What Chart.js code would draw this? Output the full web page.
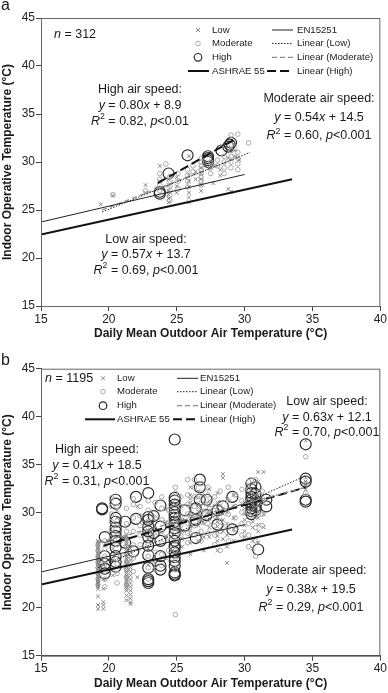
<!DOCTYPE html>
<html>
<head>
<meta charset="utf-8">
<script src="https://cdn.jsdelivr.net/npm/chart.js@4.4.0/dist/chart.umd.min.js"></script>
<style>
  html, body { margin: 0; padding: 0; background: #fff; }
  canvas { display: block; }
</style>
</head>
<body>
<canvas id="chartA" width="388" height="346"></canvas>
<canvas id="chartB" width="388" height="347"></canvas>
<script>
// axis ranges
const xRange = [15, 40];
const yRange = [15, 45];
const tickStep = 5;

// comfort standard lines (same in both panels)
const en15251Line = [[15, 23.75], [30, 28.7]];
const ashraeLine = [[15, 22.45], [33.5, 28.2]];

// ---- panel a (n = 312) ----  columns: [outdoor temp, [indoor temps]]
const lowA = [
  [19.4, [25.6]], [20.3, [26.5]], [22.7, [26.8, 27.6]],
  [23.75, [26.2, 27.2, 28.0, 29.6]], [24.4, [25.8, 26.2, 26.6, 27.0, 27.6, 28.2]],
  [25.0, [26.8, 27.5, 28.4]], [25.9, [25.8, 26.3, 26.8, 27.4, 28.0, 28.6, 30.6]],
  [26.4, [28.2, 29.0]], [26.8, [27.0, 27.6, 28.2, 28.8, 29.4]], [27.7, [27.8, 29.6]],
  [28.2, [28.6, 29.2]], [28.8, [27.2, 30.4]], [29.0, [26.9]], [29.3, [30.6, 31.2, 31.7]],
  [29.6, [30.2]]
];
const modA = [
  [20.3, [26.6]], [22.7, [27.0]], [23.75, [27.0, 27.6, 28.2, 28.8]], [24.2, [29.8]],
  [24.5, [26.0, 26.5, 27.0, 27.5, 28.0, 28.5]], [25.1, [27.2, 28.0, 28.8]],
  [25.8, [27.4, 28.0, 28.6, 29.2]], [26.2, [29.0, 29.6]],
  [26.8, [27.6, 28.0, 28.4, 28.8, 29.2, 29.6, 30.0, 30.4]], [27.5, [28.8, 29.4, 30.0]],
  [28.0, [29.6, 30.2]], [28.5, [28.8, 29.4, 30.0, 30.6]],
  [29.0, [29.4, 30.0, 30.6, 31.2, 31.8, 32.8]], [29.5, [29.2, 29.8, 30.4, 31.0, 32.9]],
  [30.3, [32.0]]
];
const highA = [
  [23.75, [26.7, 26.9]], [24.4, [28.8]], [25.8, [30.7]], [27.3, [30.0, 30.2, 30.4, 30.6]],
  [28.3, [31.2]], [28.8, [31.6]], [28.9, [31.8]], [29.0, [32.0]]
];
const lowFitA = [[19.5, 24.8], [30.4, 31.0]];
const modFitA = [[19.5, 25.0], [29.6, 30.5]];
const highFitA = [[23.6, 27.8], [29.2, 32.3]];

// ---- panel b (n = 1195) ----
const lowB = [
  [19.2, [19.9, 20.3, 21.2, 22.0, 22.2, 22.4, 22.6, 22.8, 23.0, 23.2, 23.4, 23.6, 23.8, 24.0, 24.2, 24.4, 24.6, 24.8, 25.0, 25.2, 25.4, 25.6, 25.8, 26.0, 26.2, 26.4, 26.6, 26.8, 27.0]],
  [19.6, [19.9, 20.3, 20.6, 22.0, 23.0, 24.5]],
  [20.3, [23.4, 24.1, 25.0, 26.2, 27.1, 28.0]],
  [20.6, [29.4, 30.2]],
  [21.3, [20.8, 21.3, 21.8, 22.0, 22.2, 22.4, 22.6, 22.8, 23.0, 23.2, 23.4, 23.6, 23.8, 24.0, 24.2, 24.4, 24.6, 24.8, 25.0, 25.2, 25.4, 25.6, 25.8, 26.0, 26.2, 26.4, 26.6, 26.8, 27.0, 27.2, 27.4, 27.6]],
  [21.6, [20.4, 20.6, 21.0, 21.4, 21.8, 22.2, 22.6, 23.0, 23.4, 23.8, 24.2, 24.6, 25.0, 25.4, 25.8, 26.2]],
  [22.1, [23.2, 30.6]],
  [22.9, [23.5, 24.5, 26.2, 27.2, 28.1, 29.0]],
  [23.3, [24.8, 27.5, 29.3]],
  [24.2, [25.2, 27.5, 29.0, 30.3]],
  [24.9, [23.0, 24.3, 25.6, 26.9, 28.2, 29.5, 30.8]],
  [25.4, [26.4, 27.2, 28.0, 29.2]],
  [26.0, [25.6, 26.8, 27.6, 28.1, 28.5, 28.9, 29.3, 29.7, 30.2, 30.6, 31.0, 31.4, 31.8, 32.6]],
  [26.6, [27.0, 27.8, 28.6, 29.0, 29.4, 29.8, 30.1, 30.5, 30.8, 31.5, 32.2]],
  [27.0, [26.0, 27.4, 28.8, 29.5, 30.2, 30.9, 31.6]],
  [27.4, [27.4, 28.4, 29.3, 29.8, 30.2, 30.7, 31.2, 32.4]],
  [28.0, [26.0, 27.0, 27.5, 28.0, 28.5, 29.0, 29.5, 30.0, 30.5, 31.0, 32.0]],
  [28.4, [27.2, 28.0, 28.6, 29.2, 29.8, 30.4, 33.6, 34.0]],
  [28.7, [24.7, 26.4, 27.6, 28.8, 30.0, 31.4]],
  [29.2, [27.0, 28.2, 29.4, 30.6, 31.8]],
  [30.0, [27.4, 28.0, 28.6, 29.2, 29.8, 30.4, 31.0]],
  [30.6, [26.2, 27.0, 28.4, 29.0, 29.6, 30.2, 30.8, 31.4, 32.0, 33.0]],
  [31.0, [26.8, 28.0, 28.7, 29.4, 30.0, 30.6, 31.2, 31.8, 33.2, 34.2]],
  [31.4, [28.4, 29.8, 31.2, 34.2]],
  [34.5, [32.4, 32.8, 33.2, 33.6, 37.5]]
];
const modB = [
  [19.2, [22.4, 23.0, 23.6, 24.2, 24.8, 25.4, 26.0, 26.6]],
  [19.7, [22.2, 23.0, 23.8, 24.6, 25.4, 26.2, 27.0]],
  [20.2, [27.4, 28.2, 29.0, 29.8, 30.6, 31.5]],
  [20.6, [22.6, 23.6, 24.6, 25.6, 26.6, 27.6, 28.6, 30.6]],
  [21.3, [22.4, 23.2, 24.0, 24.8, 25.6, 26.4, 27.2, 28.0, 28.8, 30.4]],
  [21.8, [23.8, 25.2, 26.6, 28.0, 29.4, 30.8, 31.4]],
  [22.3, [26.6, 27.6, 28.6, 29.6, 30.6]],
  [22.9, [23.0, 24.2, 25.4, 26.6, 27.8, 29.0, 30.2, 31.2]],
  [23.4, [24.0, 25.8, 27.6, 29.4, 31.0]],
  [23.9, [24.4, 25.6, 26.8, 28.0, 29.2, 30.4, 31.6]],
  [24.4, [26.0, 27.4, 28.8, 30.2]],
  [24.9, [19.3, 24.0, 25.0, 26.0, 27.0, 28.0, 29.0, 30.0, 31.0, 32.0, 32.6]],
  [25.3, [27.6, 28.6, 29.6, 30.6, 31.6]],
  [25.8, [26.8, 27.8, 28.8, 29.8, 30.8, 31.8, 33.4]],
  [26.3, [27.6, 28.6, 29.6, 30.6, 31.6, 32.6, 33.4]],
  [26.8, [27.0, 28.0, 29.0, 30.0, 31.0, 32.0, 33.0]],
  [27.3, [27.8, 28.8, 29.8, 30.8, 31.8, 32.6]],
  [27.8, [26.6, 27.6, 28.6, 29.6, 30.6, 31.6]],
  [28.2, [26.0, 28.0, 29.0, 30.0, 31.0, 32.2]],
  [28.8, [27.0, 28.4, 29.8, 31.2, 32.6]],
  [29.3, [28.2, 29.4, 30.6, 31.8]],
  [29.8, [27.6, 28.8, 30.0, 31.2, 32.4]],
  [30.3, [26.4, 27.6, 28.8, 30.0, 31.2, 32.4, 33.2]],
  [30.8, [25.4, 27.0, 28.4, 29.6, 30.8, 32.0, 33.4]],
  [31.3, [28.6, 29.8, 31.0, 32.2]],
  [34.5, [32.0, 33.0, 35.8]]
];
const highB = [
  [19.5, [30.3, 30.4]],
  [19.7, [23.6, 24.1, 24.6, 25.4, 27.4]],
  [20.5, [24.3, 24.8, 25.4, 26.3, 27.0, 27.5, 28.0, 28.4, 29.0, 29.4, 30.9, 31.3]],
  [21.2, [26.8, 29.0]],
  [21.8, [25.9]],
  [22.0, [29.3, 31.6]],
  [22.9, [22.6, 22.8, 23.0, 24.2, 25.5, 26.5, 27.4, 28.0, 28.5, 29.2, 29.5, 32.0]],
  [23.3, [27.8, 29.6]],
  [23.8, [24.0, 24.4, 25.4, 27.0, 28.5, 30.7]],
  [24.85, [23.4, 23.5, 23.7, 24.4, 24.9, 25.3, 25.8, 26.3, 26.5, 27.0, 27.8, 28.3, 28.7, 29.0, 29.4, 29.7, 30.0, 30.4, 30.8, 31.2, 31.5, 37.6]],
  [25.6, [28.6, 30.2]],
  [26.4, [27.3, 29.2, 30.4]],
  [26.7, [31.3, 32.6, 33.4]],
  [27.2, [29.7, 31.3]],
  [28.0, [28.7, 30.2]],
  [28.4, [30.6]],
  [29.1, [28.2, 31.6]],
  [30.5, [29.8, 30.1, 30.4, 30.7, 31.0, 31.3, 31.6, 32.0, 32.4, 33.0]],
  [30.8, [30.2, 30.6, 31.2, 31.9, 32.6]],
  [31.0, [26.1]],
  [31.6, [30.6, 31.3]],
  [34.5, [31.1, 31.3, 33.2, 33.5, 37.1]]
];
const lowFitB = [[19.2, 24.2], [34.5, 33.8]];
const modFitB = [[19.2, 26.8], [34.5, 32.6]];
const highFitB = [[19.6, 26.5], [34.5, 32.6]];

const seriesNames = ['Low', 'Moderate', 'High'];
const lineNames = ['EN15251', 'Linear (Low)', 'Linear (Moderate)', 'ASHRAE 55', 'Linear (High)'];

const FONT = '"Liberation Sans", Arial, sans-serif';
const INK = '#1a1a1a';
const LEG_FONT = '9.6px ' + FONT;

const cols = c => c.flatMap(([x, ys]) => ys.map(y => ({ x, y })));
const pts = p => p.map(([x, y]) => ({ x, y }));

const styles = {
  low: { pointStyle: 'crossRot', pointRadius: 2.6, borderColor: '#858585', borderWidth: 1 },
  mod: { pointStyle: 'circle', pointRadius: 2.3, borderColor: '#a9a9a9', backgroundColor: 'rgba(0,0,0,0)', borderWidth: 1 },
  high: { pointStyle: 'circle', pointRadius: 5.5, borderColor: '#2a2a2a', backgroundColor: 'rgba(0,0,0,0)', borderWidth: 1.2 },
  en: { borderColor: '#222', borderWidth: 1, borderDash: [] },
  ashrae: { borderColor: '#111', borderWidth: 2, borderDash: [] },
  lowFit: { borderColor: '#222', borderWidth: 1, borderDash: [1.5, 1.5] },
  modFit: { borderColor: '#8c8c8c', borderWidth: 1.3, borderDash: [5, 3] },
  highFit: { borderColor: '#111', borderWidth: 2, borderDash: [9, 4] }
};

function lineSet(data, st) {
  return Object.assign({ type: 'scatter', data: pts(data), showLine: true, pointRadius: 0, fill: false, order: 0 }, st);
}
function scatterSet(label, data, st) {
  return Object.assign({ type: 'scatter', label, data: cols(data), order: 1 }, st);
}

// rich text: "_" prefix = italic, "^" prefix = superscript
function rich(ctx, parts, x, y, size, align) {
  const segs = parts.map(p => {
    let t = p, it = false, sup = false;
    if (t[0] === '_') { it = true; t = t.slice(1); }
    else if (t[0] === '^') { sup = true; t = t.slice(1); }
    const font = (it ? 'italic ' : '') + (sup ? size * 0.7 : size) + 'px ' + FONT;
    ctx.font = font;
    return { t, font, sup, w: ctx.measureText(t).width };
  });
  const total = segs.reduce((s, g) => s + g.w, 0);
  let cx = align === 'center' ? x - total / 2 : x;
  ctx.textAlign = 'left';
  ctx.textBaseline = 'middle';
  segs.forEach(g => {
    ctx.font = g.font;
    ctx.fillText(g.t, cx, g.sup ? y - size * 0.38 : y);
    cx += g.w;
  });
}

function drawMarker(ctx, kind, x, y) {
  ctx.save();
  if (kind === 'low') {
    ctx.strokeStyle = styles.low.borderColor; ctx.lineWidth = 1;
    ctx.beginPath();
    ctx.moveTo(x - 2, y - 2); ctx.lineTo(x + 2, y + 2);
    ctx.moveTo(x + 2, y - 2); ctx.lineTo(x - 2, y + 2);
    ctx.stroke();
  } else {
    const r = kind === 'mod' ? 2.3 : 3.8;
    ctx.strokeStyle = styles[kind].borderColor; ctx.lineWidth = styles[kind].borderWidth;
    ctx.beginPath(); ctx.arc(x, y, r, 0, Math.PI * 2); ctx.stroke();
  }
  ctx.restore();
}
function drawSample(ctx, st, x1, x2, y) {
  ctx.save();
  ctx.strokeStyle = st.borderColor; ctx.lineWidth = st.borderWidth;
  ctx.setLineDash(st.borderDash);
  ctx.beginPath(); ctx.moveTo(x1, y); ctx.lineTo(x2, y); ctx.stroke();
  ctx.restore();
}

function decorations(cfg) {
  return {
    id: 'decor',
    afterDraw(chart) {
      const ctx = chart.ctx, a = chart.chartArea;
      ctx.save();
      // plot frame
      ctx.strokeStyle = '#666'; ctx.lineWidth = 1;
      ctx.strokeRect(a.left + 0.5, a.top + 0.5, a.right - a.left - 1, a.bottom - a.top);
      ctx.fillStyle = INK;
      // panel letter
      ctx.font = '16px ' + FONT; ctx.textAlign = 'left'; ctx.textBaseline = 'alphabetic';
      ctx.fillText(cfg.letter, 1, cfg.letterY);
      // axis titles
      ctx.font = 'bold 12px ' + FONT; ctx.textAlign = 'center'; ctx.textBaseline = 'middle';
      ctx.fillText('Daily Mean Outdoor Air Temperature (°C)', (a.left + a.right) / 2, a.bottom + 27.5);
      ctx.save();
      ctx.translate(10.5, (a.top + a.bottom) / 2);
      ctx.rotate(-Math.PI / 2);
      ctx.textBaseline = 'alphabetic';
      ctx.fillText('Indoor Operative Temperature (°C)', 0, 0);
      ctx.restore();
      // legend
      const L = cfg.legend, rows = L.rows;
      ['low', 'mod', 'high'].forEach((k, i) => {
        drawMarker(ctx, k, L.markX, rows[i]);
        ctx.fillStyle = INK; ctx.font = LEG_FONT; ctx.textAlign = 'left'; ctx.textBaseline = 'middle';
        ctx.fillText(seriesNames[i], L.textX1, rows[i]);
      });
      drawSample(ctx, styles.ashrae, L.ashrae[0], L.ashrae[1], rows[3]);
      ctx.fillText(lineNames[3], L.textX1, rows[3]);
      [['en', 0, 0], ['lowFit', 1, 1], ['modFit', 2, 2], ['highFit', 4, 3]].forEach(([k, n, r]) => {
        const xs = k === 'highFit' ? L.highLine : L.line2;
        drawSample(ctx, styles[k], xs[0], xs[1], rows[r]);
        ctx.fillStyle = INK; ctx.font = LEG_FONT; ctx.textAlign = 'left'; ctx.textBaseline = 'middle';
        ctx.fillText(lineNames[n], L.textX2, rows[r]);
      });
      // equations
      ctx.fillStyle = INK;
      rich(ctx, ['_n', ' = ' + cfg.n], cfg.nPos[0], cfg.nPos[1], 12.5, 'left');
      cfg.notes.forEach(nt => {
        nt.lines.forEach((ln, i) => rich(ctx, ln, nt.x, nt.ys[i], 12.5, 'center'));
      });
      ctx.restore();
    }
  };
}

function eqLines(title, slope, icpt, r2, p) {
  return [[title], ['_y', ' = ' + slope, '_x', ' + ' + icpt], ['_R', '^2', ' = ' + r2 + ', ', '_p', p]];
}

function makeChart(id, d, cfg) {
  const tickFont = { family: FONT, size: 12 };
  new Chart(document.getElementById(id), {
    type: 'scatter',
    data: {
      datasets: [
        lineSet(en15251Line, styles.en),
        lineSet(ashraeLine, styles.ashrae),
        lineSet(d.lowFit, styles.lowFit),
        lineSet(d.modFit, styles.modFit),
        lineSet(d.highFit, styles.highFit),
        scatterSet('Low', d.low, styles.low),
        scatterSet('Moderate', d.mod, styles.mod),
        scatterSet('High', d.high, styles.high)
      ]
    },
    options: {
      responsive: false,
      animation: false,
      devicePixelRatio: 1,
      events: [],
      layout: { padding: { top: cfg.padTop, right: 7, left: 0, bottom: 0 } },
      plugins: { legend: { display: false }, tooltip: { enabled: false } },
      scales: {
        x: {
          type: 'linear', min: xRange[0], max: xRange[1],
          ticks: { stepSize: tickStep, font: tickFont, color: '#222', padding: 1, maxRotation: 0 },
          grid: { drawOnChartArea: false, tickLength: 5, color: '#444' },
          border: { color: '#444' },
          afterFit: s => { s.height = cfg.xH; }
        },
        y: {
          type: 'linear', min: yRange[0], max: yRange[1],
          ticks: { stepSize: tickStep, font: tickFont, color: '#222', padding: 1 },
          grid: { drawOnChartArea: false, tickLength: 5, color: '#444' },
          border: { color: '#444' },
          afterFit: s => { s.width = 41; }
        }
      }
    },
    plugins: [decorations(cfg)]
  });
}

makeChart('chartA',
  { low: lowA, mod: modA, high: highA, lowFit: lowFitA, modFit: modFitA, highFit: highFitA },
  {
    letter: 'a', letterY: 10, padTop: 18, xH: 40, n: '312', nPos: [54, 35],
    legend: { markX: 198, textX1: 212, textX2: 297, rows: [30, 43.5, 57.3, 71], ashrae: [188, 209], line2: [272, 293], highLine: [267, 293] },
    notes: [
      { x: 140, ys: [90, 106, 121.7], lines: eqLines('High air speed:', '0.80', '8.9', '0.82', '<0.01') },
      { x: 319, ys: [99, 117.5, 136], lines: eqLines('Moderate air speed:', '0.54', '14.5', '0.60', '<0.001') },
      { x: 146, ys: [239.3, 255, 270.7], lines: eqLines('Low air speed:', '0.57', '13.7', '0.69', '<0.001') }
    ]
  });

makeChart('chartB',
  { low: lowB, mod: modB, high: highB, lowFit: lowFitB, modFit: modFitB, highFit: highFitB },
  {
    letter: 'b', letterY: 19, padTop: 22.7, xH: 37.3, n: '1195', nPos: [45, 32.3],
    legend: { markX: 103, textX1: 117, textX2: 200, rows: [32.3, 45.7, 59.7, 73.3], ashrae: [85, 115], line2: [177, 198], highLine: [173, 198] },
    notes: [
      { x: 327, ys: [55.7, 71.3, 86.7], lines: eqLines('Low air speed:', '0.63', '12.1', '0.70', '<0.001') },
      { x: 97, ys: [103.3, 120, 135.7], lines: eqLines('High air speed:', '0.41', '18.5', '0.31', '<0.001') },
      { x: 311, ys: [224.7, 243.3, 261.7], lines: eqLines('Moderate air speed:', '0.38', '19.5', '0.29', '<0.001') }
    ]
  });
</script>
</body>
</html>
